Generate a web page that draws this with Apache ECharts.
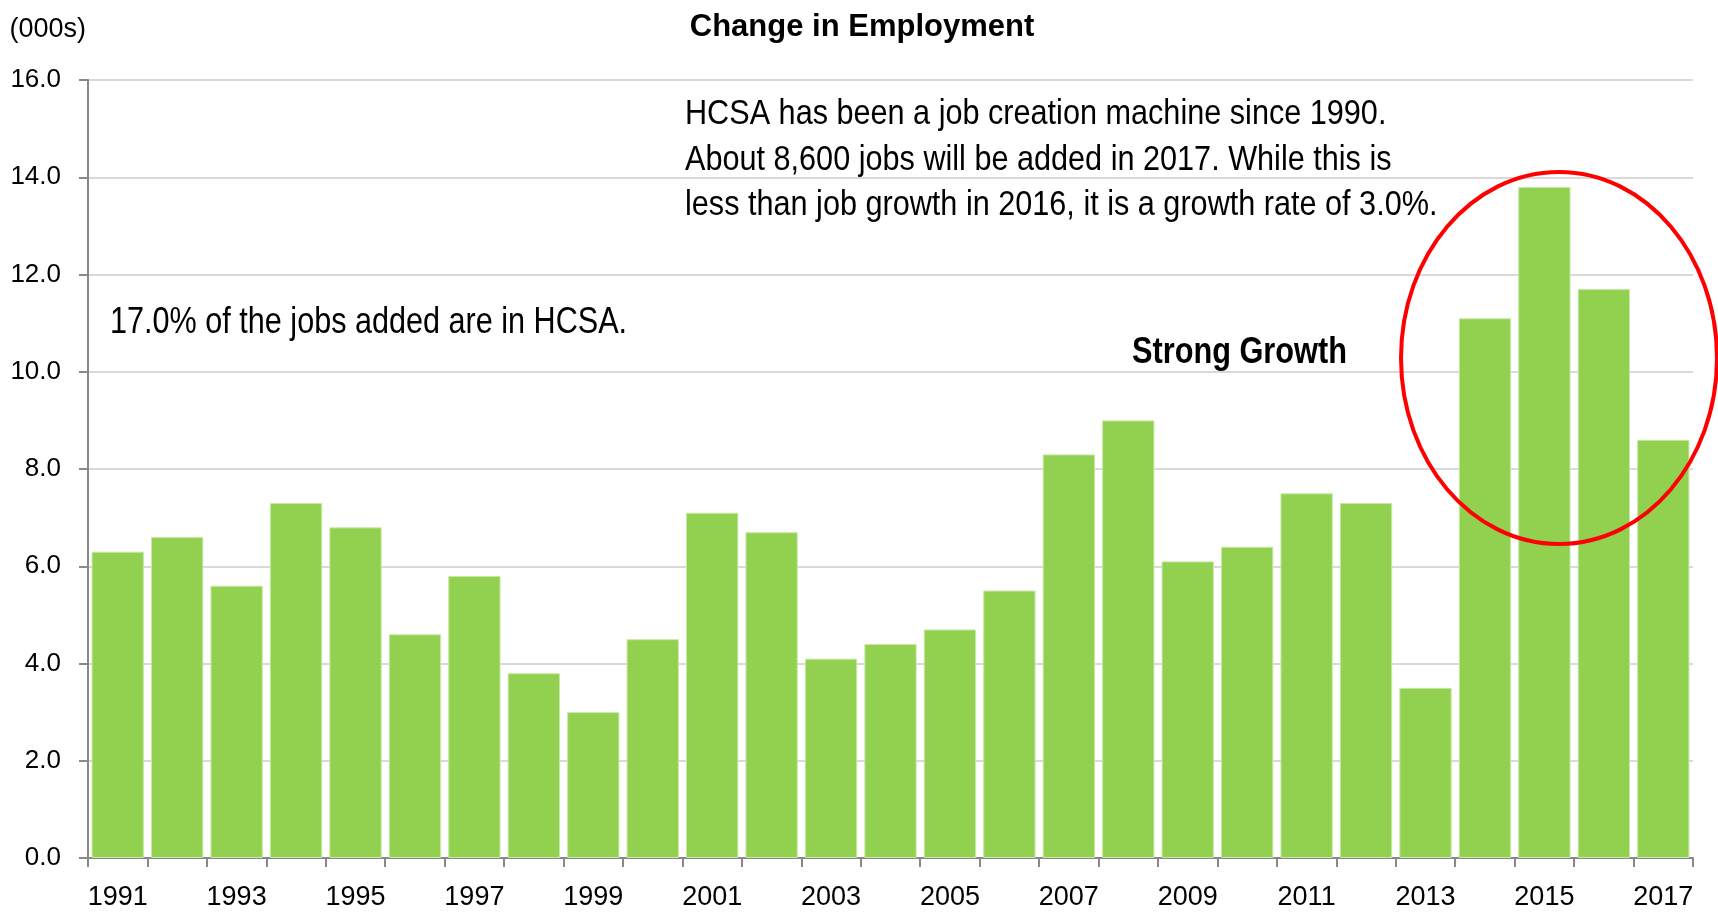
<!DOCTYPE html>
<html>
<head>
<meta charset="utf-8">
<script src="https://cdn.jsdelivr.net/npm/echarts@6/dist/echarts.min.js"></script>
<style>
    html, body { margin: 0; padding: 0; background: #fff; }
    #chart { width: 1718px; height: 913px; }
</style>
</head>
<body>
<div id="chart"></div>
<script>
    var years = ['1991', '1992', '1993', '1994', '1995', '1996', '1997', '1998', '1999', '2000',
        '2001', '2002', '2003', '2004', '2005', '2006', '2007', '2008', '2009', '2010',
        '2011', '2012', '2013', '2014', '2015', '2016', '2017'];
    var jobsAdded = [6.3, 6.6, 5.6, 7.3, 6.8, 4.6, 5.8, 3.8, 3.0, 4.5,
        7.1, 6.7, 4.1, 4.4, 4.7, 5.5, 8.3, 9.0, 6.1, 6.4,
        7.5, 7.3, 3.5, 11.1, 13.8, 11.7, 8.6];
    var noteLines = [
        'HCSA has been a job creation machine since 1990.',
        'About 8,600 jobs will be added in 2017. While this is',
        'less than job growth in 2016, it is a growth rate of 3.0%.'
    ];

    var font = '"Liberation Sans", Arial, sans-serif';
    var chart = echarts.init(document.getElementById('chart'));

    chart.setOption({
        animation: false,
        textStyle: { fontFamily: font },
        title: {
            text: 'Change in Employment',
            left: 857,
            textAlign: 'center',
            top: 7,
            textStyle: { fontFamily: font, fontSize: 31, fontWeight: 'bold', color: '#000' }
        },
        grid: { left: 88, right: 25, top: 80, bottom: 55 },
        xAxis: {
            type: 'category',
            data: years,
            boundaryGap: true,
            axisLine: { lineStyle: { color: '#888', width: 2 } },
            axisTick: { show: true, interval: 0, length: 9, lineStyle: { color: '#888', width: 2 } },
            axisLabel: { interval: 1, margin: 26, fontSize: 27, color: '#000', fontFamily: font }
        },
        yAxis: {
            type: 'value',
            name: '(000s)',
            nameLocation: 'end',
            nameGap: 37,
            nameTextStyle: { fontSize: 27, color: '#000', fontFamily: font, align: 'right', padding: [0, 2, 0, 0] },
            min: 0,
            max: 16,
            interval: 2,
            axisLine: { show: true, lineStyle: { color: '#888', width: 2 } },
            axisTick: { show: true, length: 9, lineStyle: { color: '#888', width: 2 } },
            axisLabel: {
                margin: 27, fontSize: 26, color: '#000', fontFamily: font,
                formatter: function (v) { return v.toFixed(1); }
            },
            splitLine: { lineStyle: { color: '#d9d9d9', width: 2 } }
        },
        series: [{
            type: 'bar',
            data: jobsAdded,
            barCategoryGap: '12%',
            itemStyle: { color: '#92d050', borderColor: '#c8e8a4', borderWidth: 1 }
        }],
        graphic: [
            // narrow-looking notes: regular font squeezed horizontally
            {
                type: 'text',
                x: 685,
                y: 92,
                scaleX: 0.875,
                style: {
                    text: noteLines.join('\n'),
                    font: '35px ' + font,
                    lineHeight: 45.5,
                    verticalAlign: 'top',
                    fill: '#000'
                }
            },
            {
                type: 'text',
                x: 110,
                y: 305,
                scaleX: 0.85,
                style: { text: '17.0% of the jobs added are in HCSA.', font: '36px ' + font, verticalAlign: 'top', fill: '#000' }
            },
            {
                type: 'text',
                x: 1132,
                y: 334,
                scaleX: 0.83,
                style: { text: 'Strong Growth', font: 'bold 37px ' + font, verticalAlign: 'top', fill: '#000' }
            },
            {
                type: 'ellipse',
                shape: { cx: 1559, cy: 358, rx: 158, ry: 186 },
                style: { fill: 'none', stroke: '#ff0000', lineWidth: 4 },
                z: 100
            }
        ]
    });
</script>
</body>
</html>
